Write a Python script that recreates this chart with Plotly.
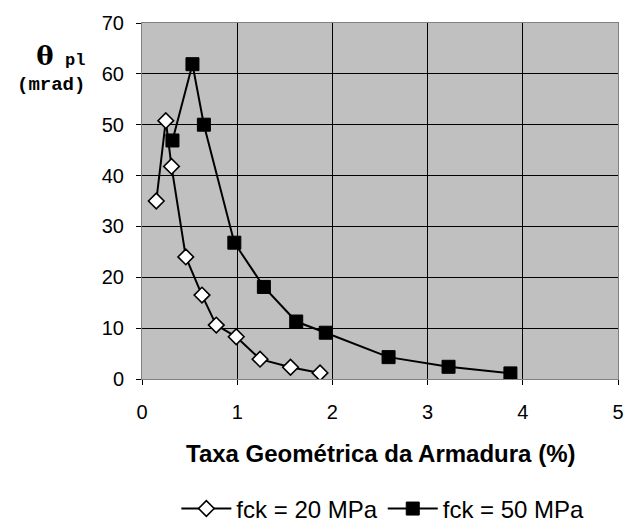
import plotly.graph_objects as go

# Taxa geométrica da armadura (%) e rotação plástica (mrad)
taxa_fck20 = [0.15, 0.25, 0.31, 0.46, 0.63, 0.78, 0.99, 1.24, 1.56, 1.87]
theta_fck20 = [35.0, 50.8, 41.8, 24.0, 16.5, 10.6, 8.3, 3.9, 2.3, 1.2]

taxa_fck50 = [0.32, 0.53, 0.65, 0.97, 1.28, 1.62, 1.93, 2.59, 3.22, 3.87]
theta_fck50 = [46.9, 61.9, 50.0, 26.8, 18.1, 11.3, 9.1, 4.3, 2.4, 1.1]

x_ticks = [0, 1, 2, 3, 4, 5]
y_ticks = [0, 10, 20, 30, 40, 50, 60, 70]

fig = go.Figure()
fig.add_trace(go.Scatter(
    x=taxa_fck20, y=theta_fck20, mode="lines+markers", name="fck = 20 MPa",
    line=dict(color="black", width=2),
    marker=dict(symbol="diamond", size=12, color="white",
                line=dict(color="black", width=1.6)),
))
fig.add_trace(go.Scatter(
    x=taxa_fck50, y=theta_fck50, mode="lines+markers", name="fck = 50 MPa",
    line=dict(color="black", width=2),
    marker=dict(symbol="square", size=13, color="black",
                line=dict(color="black", width=1)),
))

tick_font = dict(family="Arial", size=20, color="black")

fig.update_layout(
    width=628, height=522,
    margin=dict(l=142, r=10, t=23, b=143),
    paper_bgcolor="white",
    plot_bgcolor="#C0C0C0",
    showlegend=True,
    legend=dict(orientation="h", xref="paper", x=0.506, xanchor="center",
                yref="container", y=0.025, yanchor="middle",
                font=dict(family="Arial", size=24, color="black"),
                itemwidth=50, bgcolor="rgba(0,0,0,0)"),
    xaxis=dict(range=[0, 5], tickvals=x_ticks, showgrid=True,
               gridcolor="black", gridwidth=1, ticks="outside", ticklen=5,
               tickcolor="black", tickfont=tick_font, ticklabelstandoff=10,
               showline=True, linecolor="#808080", linewidth=1, mirror=True,
               zeroline=False, automargin=False),
    yaxis=dict(range=[0, 70], tickvals=y_ticks, showgrid=True,
               gridcolor="black", gridwidth=1, ticks="outside", ticklen=5,
               tickcolor="black", tickfont=tick_font, ticklabelstandoff=8,
               showline=True, linecolor="#808080", linewidth=1, mirror=True,
               zeroline=False, automargin=False),
)

# Título do eixo horizontal
fig.add_annotation(
    xref="paper", yref="paper", x=0.5, y=-0.208, xanchor="center",
    yanchor="middle", showarrow=False,
    text="<b>Taxa Geométrica da Armadura (%)</b>",
    font=dict(family="Arial", size=24, color="black"),
)

# Rótulo do eixo vertical: θ pl (mrad), em duas linhas
fig.add_annotation(
    xref="paper", yref="paper", x=-0.1155, y=0.872, xanchor="right",
    yanchor="middle", showarrow=False, align="right",
    text=("<b><span style='font-family:DejaVu Serif;font-size:26px'>θ</span>"
          " <span style='font-size:17px'>pl</span></b><br><b>(mrad)</b>"),
    font=dict(family="Liberation Mono", size=19, color="black"),
)

fig.write_html("out.html")
